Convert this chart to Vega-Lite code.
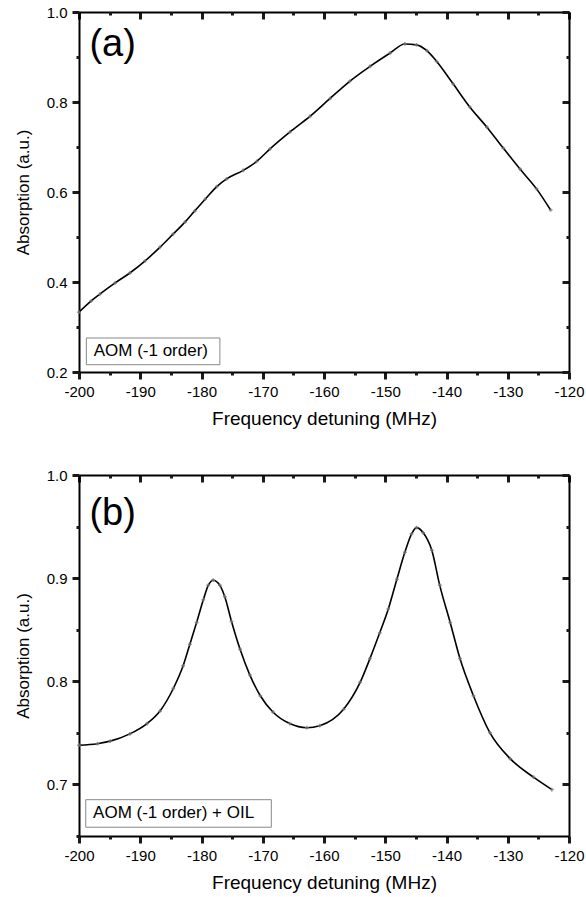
{
  "$schema": "https://vega.github.io/schema/vega-lite/v6.json",
  "padding": {"left": 14, "top": 5, "right": 5, "bottom": 5},
  "background": "white",
  "bounds": "flush",
  "spacing": 103,
  "config": {
    "font": "Liberation Sans",
    "view": {"stroke": null},
    "axis": {
      "labelFont": "Liberation Sans",
      "titleFont": "Liberation Sans",
      "labelFontSize": 15,
      "titleFontSize": 19,
      "titleFontWeight": "normal",
      "labelColor": "black",
      "titleColor": "black",
      "domainColor": "black",
      "tickColor": "#1a1a1a",
      "domainWidth": 2,
      "tickWidth": 3,
      "grid": false,
      "labelFlush": false,
      "labelOverlap": false
    }
  },
  "datasets": {
    "a": [
      {"f": -200, "A": 0.333}, {"f": -198, "A": 0.358}, {"f": -196.6, "A": 0.373},
      {"f": -194.1, "A": 0.398}, {"f": -191.7, "A": 0.42}, {"f": -189.2, "A": 0.447},
      {"f": -186.8, "A": 0.477}, {"f": -184.6, "A": 0.507}, {"f": -182.7, "A": 0.533},
      {"f": -181.1, "A": 0.558}, {"f": -179.4, "A": 0.584}, {"f": -177.5, "A": 0.612},
      {"f": -175.9, "A": 0.629}, {"f": -173.2, "A": 0.648}, {"f": -171.0, "A": 0.668},
      {"f": -168.8, "A": 0.696}, {"f": -165.6, "A": 0.733}, {"f": -162.3, "A": 0.768},
      {"f": -159.0, "A": 0.808}, {"f": -155.8, "A": 0.846}, {"f": -152.5, "A": 0.879},
      {"f": -149.2, "A": 0.909}, {"f": -146.8, "A": 0.929}, {"f": -144.9, "A": 0.927},
      {"f": -143.2, "A": 0.914}, {"f": -141.6, "A": 0.89}, {"f": -138.9, "A": 0.84},
      {"f": -136.2, "A": 0.789}, {"f": -133.4, "A": 0.744}, {"f": -130.7, "A": 0.697},
      {"f": -128.0, "A": 0.651}, {"f": -125.3, "A": 0.607}, {"f": -123.0, "A": 0.56}
    ],
    "b": [
      {"f": -200, "A": 0.738}, {"f": -197, "A": 0.7395}, {"f": -194.9, "A": 0.742},
      {"f": -191.7, "A": 0.749}, {"f": -188.9, "A": 0.759}, {"f": -186.8, "A": 0.771},
      {"f": -184.6, "A": 0.793}, {"f": -183.0, "A": 0.815}, {"f": -181.9, "A": 0.836},
      {"f": -180.8, "A": 0.857}, {"f": -179.7, "A": 0.879}, {"f": -178.9, "A": 0.893},
      {"f": -178.1, "A": 0.898}, {"f": -177.0, "A": 0.893}, {"f": -176.2, "A": 0.882},
      {"f": -175.1, "A": 0.858}, {"f": -173.7, "A": 0.831}, {"f": -172.1, "A": 0.806},
      {"f": -170.4, "A": 0.786}, {"f": -168.3, "A": 0.770}, {"f": -165.6, "A": 0.759},
      {"f": -162.8, "A": 0.755}, {"f": -160.7, "A": 0.757}, {"f": -156.8, "A": 0.773},
      {"f": -154.1, "A": 0.799}, {"f": -152.5, "A": 0.822}, {"f": -150.9, "A": 0.847},
      {"f": -149.5, "A": 0.870}, {"f": -148.1, "A": 0.899}, {"f": -146.8, "A": 0.925},
      {"f": -145.7, "A": 0.943}, {"f": -144.9, "A": 0.949}, {"f": -143.8, "A": 0.944},
      {"f": -142.4, "A": 0.927}, {"f": -141.1, "A": 0.893}, {"f": -139.4, "A": 0.857},
      {"f": -137.8, "A": 0.822}, {"f": -135.6, "A": 0.786}, {"f": -132.9, "A": 0.750},
      {"f": -129.6, "A": 0.725}, {"f": -125.8, "A": 0.707}, {"f": -122.8, "A": 0.695}
    ],
    "labelsA": [
      {"x1": -198.8, "x2": -177.0, "y1": 0.2162, "y2": 0.2756, "tx": -197.6, "ty": 0.246, "t": "AOM (-1 order)"}
    ],
    "labelsB": [
      {"x1": -198.9, "x2": -168.6, "y1": 0.6585, "y2": 0.6852, "tx": -197.7, "ty": 0.672, "t": "AOM (-1 order) + OIL"}
    ],
    "tagA": [{"tx": -198.3, "ty": 0.927, "t": "(a)"}],
    "tagB": [{"tx": -198.3, "ty": 0.962, "t": "(b)"}]
  },
  "vconcat": [
    {
      "width": 490,
      "height": 360,
      "layer": [
        {
          "data": {"name": "a"},
          "mark": {"type": "line", "color": "black", "strokeWidth": 1.6, "interpolate": "monotone"},
          "encoding": {
            "x": {
              "field": "f", "type": "quantitative",
              "scale": {"domain": [-200, -120], "nice": false, "zero": false},
              "axis": {
                "orient": "bottom",
                "values": [-200,-190,-180,-170,-160,-150,-140,-130,-120],
                "labelExpr": "'-' + abs(datum.value)",
                "tickSize": 7, "tickColor": "#1a1a1a", "tickWidth": 3,
                "labelPadding": 5,
                "titlePadding": 10,
                "title": "Frequency detuning (MHz)"
              }
            },
            "y": {
              "field": "A", "type": "quantitative",
              "scale": {"domain": [0.2, 1.0], "nice": false, "zero": false},
              "axis": {
                "orient": "left",
                "values": [0.2,0.4,0.6,0.8,1.0],
                "format": ".1f",
                "tickSize": 7, "tickColor": "#1a1a1a", "tickWidth": 3,
                "labelPadding": 5,
                "titlePadding": 14,
                "titleFontSize": 17,
                "title": "Absorption (a.u.)"
              }
            }
          }
        },
        {
          "data": {"name": "a"},
          "mark": {"type": "point", "shape": "cross", "size": 14, "filled": true, "color": "#777777", "opacity": 0.8},
          "encoding": {
            "x": {
              "field": "f", "type": "quantitative",
              "axis": {"orient": "top", "values": [-200,-190,-180,-170,-160,-150,-140,-130,-120], "labels": false, "tickSize": -7, "tickColor": "#1a1a1a", "tickWidth": 3, "title": null}
            },
            "y": {
              "field": "A", "type": "quantitative",
              "axis": {"orient": "right", "values": [0.2,0.4,0.6,0.8,1.0], "labels": false, "tickSize": -7, "tickColor": "#1a1a1a", "tickWidth": 3, "title": null}
            }
          }
        },
        {
          "data": {"name": "labelsA"},
          "mark": {"type": "rect", "fill": "white", "stroke": "#888888", "strokeWidth": 1},
          "encoding": {
            "x": {"field": "x1", "type": "quantitative",
              "axis": {"orient": "bottom", "values": [-195,-185,-175,-165,-155,-145,-135,-125], "labels": false, "domain": false, "tickSize": 3, "tickColor": "#1a1a1a", "tickWidth": 3, "title": null}},
            "x2": {"field": "x2"},
            "y": {"field": "y1", "type": "quantitative",
              "axis": {"orient": "left", "values": [0.3,0.5,0.7,0.9], "labels": false, "domain": false, "tickSize": 3, "tickColor": "#1a1a1a", "tickWidth": 3, "title": null}},
            "y2": {"field": "y2"}
          }
        },
        {
          "data": {"name": "labelsA"},
          "mark": {"type": "text", "align": "left", "baseline": "middle", "fontSize": 17, "font": "Liberation Sans", "color": "black"},
          "encoding": {
            "x": {"field": "tx", "type": "quantitative",
              "axis": {"orient": "top", "values": [-195,-185,-175,-165,-155,-145,-135,-125], "labels": false, "domain": false, "tickSize": -3, "tickColor": "#1a1a1a", "tickWidth": 3, "title": null}},
            "y": {"field": "ty", "type": "quantitative",
              "axis": {"orient": "right", "values": [0.3,0.5,0.7,0.9], "labels": false, "domain": false, "tickSize": -3, "tickColor": "#1a1a1a", "tickWidth": 3, "title": null}},
            "text": {"field": "t"}
          }
        },
        {
          "data": {"name": "tagA"},
          "mark": {"type": "text", "align": "left", "baseline": "middle", "fontSize": 38, "font": "Liberation Sans", "color": "black"},
          "encoding": {
            "x": {"field": "tx", "type": "quantitative", "axis": null},
            "y": {"field": "ty", "type": "quantitative", "axis": null},
            "text": {"field": "t"}
          }
        }
      ]
    },
    {
      "width": 490,
      "height": 361,
      "layer": [
        {
          "data": {"name": "b"},
          "mark": {"type": "line", "color": "black", "strokeWidth": 1.6, "interpolate": "monotone"},
          "encoding": {
            "x": {
              "field": "f", "type": "quantitative",
              "scale": {"domain": [-200, -120], "nice": false, "zero": false},
              "axis": {
                "orient": "bottom",
                "values": [-200,-190,-180,-170,-160,-150,-140,-130,-120],
                "labelExpr": "'-' + abs(datum.value)",
                "tickSize": 7, "tickColor": "#1a1a1a", "tickWidth": 3,
                "labelPadding": 5,
                "titlePadding": 10,
                "title": "Frequency detuning (MHz)"
              }
            },
            "y": {
              "field": "A", "type": "quantitative",
              "scale": {"domain": [0.65, 1.0], "nice": false, "zero": false},
              "axis": {
                "orient": "left",
                "values": [0.7,0.8,0.9,1.0],
                "format": ".1f",
                "tickSize": 7, "tickColor": "#1a1a1a", "tickWidth": 3,
                "labelPadding": 5,
                "titlePadding": 14,
                "titleFontSize": 17,
                "title": "Absorption (a.u.)"
              }
            }
          }
        },
        {
          "data": {"name": "b"},
          "mark": {"type": "point", "shape": "cross", "size": 14, "filled": true, "color": "#777777", "opacity": 0.8},
          "encoding": {
            "x": {
              "field": "f", "type": "quantitative",
              "axis": {"orient": "top", "values": [-200,-190,-180,-170,-160,-150,-140,-130,-120], "labels": false, "tickSize": -7, "tickColor": "#1a1a1a", "tickWidth": 3, "title": null}
            },
            "y": {
              "field": "A", "type": "quantitative",
              "axis": {"orient": "right", "values": [0.7,0.8,0.9,1.0], "labels": false, "tickSize": -7, "tickColor": "#1a1a1a", "tickWidth": 3, "title": null}
            }
          }
        },
        {
          "data": {"name": "labelsB"},
          "mark": {"type": "rect", "fill": "white", "stroke": "#888888", "strokeWidth": 1},
          "encoding": {
            "x": {"field": "x1", "type": "quantitative",
              "axis": {"orient": "bottom", "values": [-195,-185,-175,-165,-155,-145,-135,-125], "labels": false, "domain": false, "tickSize": 3, "tickColor": "#1a1a1a", "tickWidth": 3, "title": null}},
            "x2": {"field": "x2"},
            "y": {"field": "y1", "type": "quantitative",
              "axis": {"orient": "left", "values": [0.65,0.75,0.85,0.95], "labels": false, "domain": false, "tickSize": 3, "tickColor": "#1a1a1a", "tickWidth": 3, "title": null}},
            "y2": {"field": "y2"}
          }
        },
        {
          "data": {"name": "labelsB"},
          "mark": {"type": "text", "align": "left", "baseline": "middle", "fontSize": 17, "font": "Liberation Sans", "color": "black"},
          "encoding": {
            "x": {"field": "tx", "type": "quantitative",
              "axis": {"orient": "top", "values": [-195,-185,-175,-165,-155,-145,-135,-125], "labels": false, "domain": false, "tickSize": -3, "tickColor": "#1a1a1a", "tickWidth": 3, "title": null}},
            "y": {"field": "ty", "type": "quantitative",
              "axis": {"orient": "right", "values": [0.75,0.85,0.95], "labels": false, "domain": false, "tickSize": -3, "tickColor": "#1a1a1a", "tickWidth": 3, "title": null}},
            "text": {"field": "t"}
          }
        },
        {
          "data": {"name": "tagB"},
          "mark": {"type": "text", "align": "left", "baseline": "middle", "fontSize": 38, "font": "Liberation Sans", "color": "black"},
          "encoding": {
            "x": {"field": "tx", "type": "quantitative", "axis": null},
            "y": {"field": "ty", "type": "quantitative", "axis": null},
            "text": {"field": "t"}
          }
        }
      ]
    }
  ]
}
